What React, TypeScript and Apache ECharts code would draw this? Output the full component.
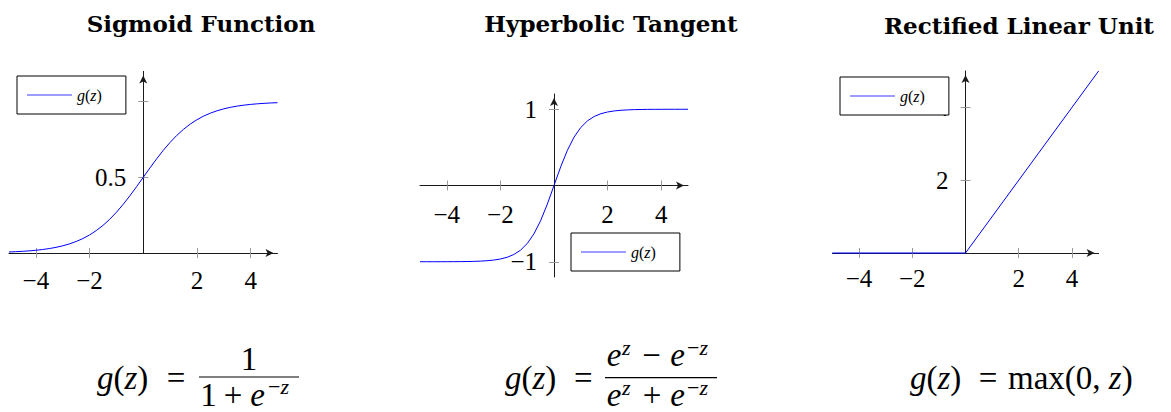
import { useEffect, useRef } from "react";
import * as echarts from "echarts";

// Sample points of z shared by the smooth curves
const zSamples = [
  -5, -4.75, -4.5, -4.25, -4, -3.75, -3.5, -3.25, -3, -2.75, -2.5, -2.25, -2, -1.75, -1.5, -1.25, -1, -0.75, -0.5, -0.25,
  0, 0.25, 0.5, 0.75, 1, 1.25, 1.5, 1.75, 2, 2.25, 2.5, 2.75, 3, 3.25, 3.5, 3.75, 4, 4.25, 4.5, 4.75, 5,
];

const sigmoidValues = [
  0.0067, 0.0086, 0.011, 0.0141, 0.018, 0.023, 0.0293, 0.0373, 0.0474, 0.0601, 0.0759, 0.0953, 0.1192, 0.1481, 0.1824,
  0.2227, 0.2689, 0.3208, 0.3775, 0.4378, 0.5, 0.5622, 0.6225, 0.6792, 0.7311, 0.7773, 0.8176, 0.8519, 0.8808, 0.9047,
  0.9241, 0.9399, 0.9526, 0.9627, 0.9707, 0.977, 0.982, 0.9859, 0.989, 0.9914, 0.9933,
];

const tanhValues = [
  -0.9999, -0.9998, -0.9998, -0.9996, -0.9993, -0.9989, -0.9982, -0.997, -0.9951, -0.9919, -0.9866, -0.978, -0.964,
  -0.9414, -0.9051, -0.8483, -0.7616, -0.6351, -0.4621, -0.2449, 0, 0.2449, 0.4621, 0.6351, 0.7616, 0.8483, 0.9051,
  0.9414, 0.964, 0.978, 0.9866, 0.9919, 0.9951, 0.997, 0.9982, 0.9989, 0.9993, 0.9996, 0.9998, 0.9998, 0.9999,
];

const reluZ = [-5, 0, 5];
const reluValues = [0, 0, 5];

const xMin = -5;
const xMax = 5;
const xTickValues = [-4, -2, 2, 4];
const sigmoidYTicks = [0.5, 1];
const sigmoidYLabels = [0.5];
const tanhYTicks = [-1, 1];
const reluYTicks = [2, 4];

const titles = ["Sigmoid Function", "Hyperbolic Tangent", "Rectified Linear Unit"];
const seriesName = "g(z)";

const MATH_FONT = "'Liberation Serif', 'Times New Roman', serif";
const TITLE_FONT = "'DejaVu Serif', serif";
const BLUE = "#0000ff";

type Panel = {
  grid: { left: number; top: number; width: number; height: number };
  yMin: number;
  yMax: number;
  yTicks: number[];
  yLabels: number[];
  xLabelMargin: number;
  legend: { left: number; top: number };
  points: number[][];
};

const pair = (xs: number[], ys: number[]) => xs.map((x, i) => [x, ys[i]]);

const panels: Panel[] = [
  {
    grid: { left: 9, top: 71.4, width: 268.5, height: 181.6 },
    yMin: 0,
    yMax: 1.2,
    yTicks: sigmoidYTicks,
    yLabels: sigmoidYLabels,
    xLabelMargin: 15,
    legend: { left: 17, top: 76 },
    points: pair(zSamples, sigmoidValues),
  },
  {
    grid: { left: 420, top: 94, width: 268, height: 183 },
    yMin: -1.2,
    yMax: 1.2,
    yTicks: tanhYTicks,
    yLabels: tanhYTicks,
    xLabelMargin: 16,
    legend: { left: 571, top: 233 },
    points: pair(zSamples, tanhValues),
  },
  {
    grid: { left: 832.4, top: 71, width: 266.2, height: 182 },
    yMin: 0,
    yMax: 5,
    yTicks: reluYTicks,
    yLabels: reluYTicks,
    xLabelMargin: 13,
    legend: { left: 840, top: 77 },
    points: pair(reluZ, reluValues),
  },
];

const titleCenters = [
  { x: 201, base: 31 },
  { x: 611, base: 31 },
  { x: 1019, base: 33 },
];

const fmtTick = (v: number) => String(v).replace("-", "\u2212");

const mathRich = (size: number) => ({
  i: { fontFamily: MATH_FONT, fontStyle: "italic", fontSize: size, color: "#000" },
  r: { fontFamily: MATH_FONT, fontSize: size, color: "#000" },
});

// Text placed by its baseline; 'middle' sits about 0.34em above the baseline
function mtext(x: number, base: number, text: string, size: number, align: string = "left", italic = false) {
  return {
    type: "text",
    x,
    y: base - 0.34 * size,
    silent: true,
    style: {
      text,
      fontFamily: MATH_FONT,
      fontSize: size,
      fontStyle: italic ? "italic" : "normal",
      fill: "#000",
      align,
      verticalAlign: "middle",
    },
  };
}

function richText(x: number, base: number, text: string, size: number, align: string = "left") {
  return {
    type: "text",
    x,
    y: base - 0.34 * size,
    silent: true,
    style: {
      text,
      fill: "#000",
      fontFamily: MATH_FONT,
      fontSize: size,
      align,
      verticalAlign: "middle",
      rich: mathRich(size),
    },
  };
}

function fracLine(x1: number, x2: number, y: number) {
  return {
    type: "line",
    silent: true,
    shape: { x1, y1: y, x2, y2: y },
    style: { stroke: "#000", lineWidth: 1.2 },
  };
}

const GZ = "{i|g}{r|(}{i|z}{r|)}";
const F = 33;
const S = 22;

function formulas() {
  return [
    // g(z) = 1 / (1 + e^{-z})
    richText(97, 389, GZ, F),
    mtext(176, 389, "=", F, "center"),
    fracLine(199, 299, 377),
    mtext(249, 370.7, "1", F, "center"),
    mtext(208.5, 406.7, "1", F, "center"),
    mtext(233, 406.7, "+", F, "center"),
    mtext(257.5, 406.7, "e", F, "center", true),
    richText(268, 394, "{r|\u2212}{i|z}", S),

    // g(z) = (e^z - e^{-z}) / (e^z + e^{-z})
    richText(505, 389, GZ, F),
    mtext(583.3, 389, "=", F, "center"),
    fracLine(605, 717, 377.7),
    mtext(614, 366.7, "e", F, "center", true),
    mtext(622, 354.5, "z", S, "left", true),
    mtext(651.5, 366.7, "\u2212", F, "center"),
    mtext(677.5, 366.7, "e", F, "center", true),
    richText(687, 354.5, "{r|\u2212}{i|z}", S),
    mtext(614, 406.7, "e", F, "center", true),
    mtext(622, 394.5, "z", S, "left", true),
    mtext(652, 406.7, "+", F, "center"),
    mtext(677.5, 406.7, "e", F, "center", true),
    richText(687, 394.5, "{r|\u2212}{i|z}", S),

    // g(z) = max(0, z)
    richText(910, 389, GZ, F),
    mtext(988, 389, "=", F, "center"),
    richText(1008, 389, "{r|max(0,} {i|z}{r|)}", F),
  ];
}

function buildOption() {
  const grid: any[] = [];
  const xAxis: any[] = [];
  const yAxis: any[] = [];
  const series: any[] = [];
  const legend: any[] = [];

  panels.forEach((p, g) => {
    grid.push({ ...p.grid, containLabel: false, outerBoundsMode: "none" });

    // axes cross at the origin: shift each axis inward from the grid edge to zero
    const xAxisShift = -((0 - p.yMin) / (p.yMax - p.yMin)) * p.grid.height;
    const yAxisShift = -((0 - xMin) / (xMax - xMin)) * p.grid.width;

    const lineStyle = { color: "#1a1a1a", width: 1 };
    const tickStyle = { color: "#9a9a9a", width: 1 };
    const labelStyle = { fontFamily: MATH_FONT, fontSize: 25, color: "#000", formatter: fmtTick };
    const arrowLine = {
      show: true,
      onZero: false,
      symbol: ["none", "arrow"],
      symbolSize: [6, 8],
      symbolOffset: [0, -4],
      lineStyle,
    };

    // main x axis: line with arrow, outward ticks, labels
    xAxis.push({
      type: "value",
      gridIndex: g,
      min: xMin,
      max: xMax,
      position: "bottom",
      offset: xAxisShift,
      axisLine: arrowLine,
      axisTick: { show: true, inside: false, length: 5, customValues: xTickValues, lineStyle: tickStyle },
      axisLabel: { show: true, customValues: xTickValues, margin: p.xLabelMargin, ...labelStyle },
      splitLine: { show: false },
    });
    // companion x axis carrying the inner half of each tick
    xAxis.push({
      type: "value",
      gridIndex: g,
      min: xMin,
      max: xMax,
      position: "bottom",
      offset: xAxisShift,
      axisLine: { show: false, onZero: false },
      axisTick: { show: true, inside: true, length: 5, customValues: xTickValues, lineStyle: tickStyle },
      axisLabel: { show: false },
      splitLine: { show: false },
    });

    yAxis.push({
      type: "value",
      gridIndex: g,
      min: p.yMin,
      max: p.yMax,
      position: "left",
      offset: yAxisShift,
      axisLine: arrowLine,
      axisTick: { show: true, inside: false, length: 5, customValues: p.yTicks, lineStyle: tickStyle },
      axisLabel: { show: true, customValues: p.yLabels, margin: 17, ...labelStyle },
      splitLine: { show: false },
    });
    yAxis.push({
      type: "value",
      gridIndex: g,
      min: p.yMin,
      max: p.yMax,
      position: "left",
      offset: yAxisShift,
      axisLine: { show: false, onZero: false },
      axisTick: { show: true, inside: true, length: 5, customValues: p.yTicks, lineStyle: tickStyle },
      axisLabel: { show: false },
      splitLine: { show: false },
    });

    series.push({
      type: "line",
      name: seriesName,
      xAxisIndex: 2 * g,
      yAxisIndex: 2 * g,
      data: p.points,
      symbol: "none",
      showSymbol: false,
      smooth: false,
      clip: false,
      lineStyle: { color: BLUE, width: 1 },
      itemStyle: { color: BLUE },
      z: 3,
    });

    legend.push({
      show: true,
      left: p.legend.left,
      top: p.legend.top,
      orient: "horizontal",
      data: [{ name: seriesName, icon: "rect" }],
      selectedMode: false,
      itemWidth: 45,
      itemHeight: 1.2,
      padding: [11, 24, 11, 10],
      borderColor: "#000",
      borderWidth: 1,
      borderRadius: 0,
      backgroundColor: "#fff",
      itemStyle: { color: "#3d3dff", borderWidth: 0 },
      formatter: () => GZ,
      textStyle: {
        fontFamily: MATH_FONT,
        fontSize: 16,
        color: "#000",
        rich: mathRich(16),
      },
      z: 10,
    });
  });

  const titleTexts = titles.map((t, i) => ({
    type: "text",
    x: titleCenters[i].x,
    y: titleCenters[i].base - 0.34 * 23,
    silent: true,
    style: {
      text: t,
      fontFamily: TITLE_FONT,
      fontWeight: "bold",
      fontSize: 23,
      fill: "#000",
      align: "center",
      verticalAlign: "middle",
    },
  }));

  return {
    animation: false,
    backgroundColor: "#fff",
    grid,
    xAxis,
    yAxis,
    series,
    legend,
    graphic: [...titleTexts, ...formulas()],
  };
}

export default function App() {
  const ref = useRef<HTMLDivElement>(null);

  useEffect(() => {
    if (!ref.current) return;
    const chart = echarts.init(ref.current, null, { renderer: "svg" });
    chart.setOption(buildOption() as any);
    return () => chart.dispose();
  }, []);

  return (
    <div
      ref={ref}
      style={{ position: "fixed", left: 0, top: 0, width: 1171, height: 412, background: "#fff" }}
    />
  );
}
